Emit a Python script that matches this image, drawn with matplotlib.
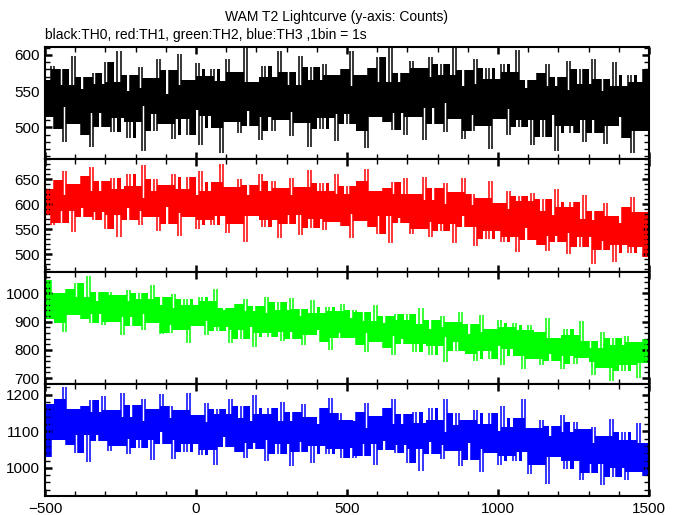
import numpy as np
import matplotlib
matplotlib.use("Agg")
import matplotlib.pyplot as plt
from matplotlib.ticker import MultipleLocator
from numpy.lib.stride_tricks import sliding_window_view

plt.rcParams['font.family'] = ['Liberation Sans', 'DejaVu Sans']

title = "WAM T2 Lightcurve (y-axis: Counts)"
subtitle = "black:TH0, red:TH1, green:TH2, blue:TH3 ,1bin = 1s"

t_start = -500
t_end = 1500
bin_width = 10

th0 = [565, 515, 585, 498, 548, 580, 480, 558, 528, 598, 505, 553, 490, 570, 540, 473, 575, 520, 560, 500,
       590, 525, 493, 563, 605, 513, 543, 485, 573, 508, 550, 583, 468, 555, 530, 568, 495, 595, 518, 538,
       504, 579, 484, 546, 601, 511, 559, 489, 566, 524, 589, 476, 536, 571, 516, 581, 499, 551, 464, 564,
       595, 530, 507, 577, 492, 555, 612, 522, 502, 562, 542, 482, 585, 515, 570, 495, 550, 605, 510, 535,
       576, 488, 558, 521, 598, 506, 546, 473, 583, 528, 566, 498, 588, 513, 533, 573, 481, 561, 581, 518,
       505, 605, 530, 557, 495, 572, 472, 582, 545, 515, 597, 527, 507, 562, 612, 497, 552, 520, 575, 490,
       562, 592, 514, 537, 582, 482, 569, 597, 527, 504, 552, 587, 494, 572, 534, 609, 512, 557, 484, 579,
       535, 495, 595, 517, 560, 502, 582, 470, 567, 552, 512, 587, 525, 490, 577, 532, 607, 500, 555, 510,
       565, 475, 542, 575, 510, 487, 587, 517, 557, 467, 570, 535, 502, 592, 492, 552, 525, 580, 480, 560,
       510, 595, 492, 532, 567, 477, 550, 502, 590, 515, 557, 485, 535, 572, 465, 542, 562, 495, 580, 507]

th1 = [579, 631, 558, 649, 597, 563, 667, 587, 618, 545, 641, 592, 657, 574, 605, 675, 568, 626, 584, 646,
       551, 618, 652, 579, 535, 631, 600, 660, 569, 637, 592, 559, 678, 587, 613, 574, 650, 546, 626, 605,
       639, 561, 660, 595, 537, 631, 582, 654, 574, 618, 550, 667, 605, 569, 626, 558, 644, 589, 680, 576,
       543, 611, 634, 561, 650, 585, 525, 619, 639, 577, 598, 660, 554, 626, 569, 647, 590, 533, 632, 606,
       561, 652, 579, 618, 538, 634, 592, 668, 553, 610, 571, 642, 548, 626, 605, 564, 660, 577, 556, 621,
       636, 532, 610, 581, 646, 566, 670, 555, 594, 626, 540, 613, 633, 576, 522, 644, 587, 620, 563, 652,
       572, 541, 621, 598, 551, 655, 564, 535, 608, 632, 582, 546, 642, 561, 600, 522, 624, 577, 652, 554,
       580, 621, 517, 598, 554, 613, 530, 647, 546, 561, 603, 525, 590, 626, 535, 582, 504, 616, 559, 606,
       529, 623, 553, 519, 586, 610, 506, 579, 537, 631, 524, 560, 594, 501, 605, 542, 571, 514, 618, 534,
       568, 480, 586, 545, 508, 602, 527, 576, 485, 563, 519, 594, 542, 503, 615, 534, 514, 584, 495, 571]

th2 = [908, 1048, 943, 981, 894, 1002, 862, 1016, 964, 922, 1037, 939, 911, 988, 1062, 897, 974, 929, 1006, 887,
       965, 1007, 898, 930, 993, 853, 975, 1014, 916, 884, 951, 1000, 870, 979, 926, 1031, 895, 958, 856, 989,
       915, 859, 999, 890, 950, 869, 981, 824, 960, 939, 883, 988, 901, 852, 974, 911, 1016, 866, 943, 880,
       949, 823, 917, 963, 872, 840, 980, 882, 938, 812, 956, 907, 861, 987, 847, 931, 893, 970, 830, 942,
       864, 983, 839, 895, 944, 818, 920, 853, 976, 871, 930, 829, 899, 951, 801, 909, 937, 843, 962, 860,
       912, 842, 940, 818, 888, 933, 793, 902, 860, 958, 828, 895, 807, 919, 877, 783, 926, 849, 905, 821,
       929, 838, 793, 891, 950, 821, 863, 782, 905, 814, 873, 919, 758, 880, 845, 898, 796, 936, 828, 856,
       787, 892, 759, 846, 923, 797, 864, 766, 874, 815, 906, 748, 832, 881, 804, 895, 780, 853, 731, 871,
       889, 798, 766, 864, 745, 833, 913, 787, 759, 843, 815, 731, 875, 777, 854, 749, 826, 903, 770, 805,
       833, 710, 808, 756, 864, 735, 791, 689, 843, 766, 819, 724, 850, 745, 773, 829, 700, 812, 840, 752]

th3 = [1174, 1030, 1138, 1098, 1188, 1077, 1221, 1062, 1116, 1160, 1041, 1142, 1170, 1091, 1016, 1185, 1106, 1152, 1073, 1196,
       1090, 1047, 1158, 1126, 1061, 1205, 1079, 1039, 1140, 1173, 1104, 1054, 1187, 1075, 1129, 1021, 1162, 1097, 1201, 1065,
       1112, 1169, 1025, 1137, 1076, 1158, 1043, 1205, 1065, 1086, 1144, 1036, 1126, 1176, 1050, 1115, 1007, 1162, 1083, 1148,
       1058, 1188, 1091, 1044, 1137, 1170, 1026, 1127, 1069, 1199, 1051, 1101, 1148, 1019, 1163, 1076, 1116, 1037, 1181, 1065,
       1127, 1005, 1152, 1095, 1044, 1174, 1070, 1138, 1012, 1120, 1059, 1163, 1091, 1037, 1192, 1080, 1052, 1149, 1026, 1131,
       1055, 1127, 1026, 1152, 1080, 1033, 1177, 1066, 1109, 1008, 1141, 1073, 1163, 1048, 1091, 1188, 1040, 1120, 1062, 1148,
       1013, 1106, 1153, 1052, 991, 1124, 1081, 1164, 1038, 1132, 1070, 1024, 1189, 1063, 1099, 1045, 1150, 1006, 1117, 1088,
       1130, 1022, 1159, 1069, 989, 1119, 1051, 1151, 1040, 1101, 1007, 1169, 1083, 1033, 1112, 1018, 1137, 1061, 1187, 1043,
       982, 1076, 1108, 1007, 1130, 1040, 957, 1087, 1115, 1029, 1058, 1144, 997, 1097, 1018, 1126, 1047, 968, 1105, 1069,
       986, 1112, 1011, 1065, 954, 1087, 1029, 1134, 975, 1054, 1000, 1098, 968, 1076, 1047, 990, 1123, 1008, 979, 1069]

series = [th0, th1, th2, th3]
colors = ['#000000', '#ff0000', '#00ff00', '#0000ff']
ylims = [(456, 611), (466, 690), (680, 1078), (923, 1230)]
ymajor = [50, 50, 100, 100]
yminor = [10, 10, 20, 20]

W, H = 679, 515
fig = plt.figure(figsize=(W / 100, H / 100), dpi=100)

left_px, right_px = 45, 649
top_px, bot_px = 47, 496
ph = (bot_px - top_px) / 4.0

edges = np.arange(t_start, t_end + bin_width, bin_width)

for k, (vals, col, yl, ymj, ymn) in enumerate(zip(series, colors, ylims, ymajor, yminor)):
    y0 = H - (top_px + (k + 1) * ph)
    ax = fig.add_axes([left_px / W, y0 / H, (right_px - left_px) / W, ph / H])
    v = np.asarray(vals, dtype=float)
    # dense core of the band: 2nd lowest .. 2nd highest of 6 neighbouring bins
    padded = np.concatenate([v[:2], v, v[-3:]])
    win = np.sort(sliding_window_view(padded, 6), axis=1)
    lo = win[:, 1]
    hi = win[:, 4]
    ax.fill_between(edges, np.append(lo, lo[-1]), np.append(hi, hi[-1]),
                    step='post', color=col, lw=0)
    # individual bin excursions as thin vertical strokes
    ax.vlines(edges[1:-1], np.minimum(v[:-1], v[1:]), np.maximum(v[:-1], v[1:]),
              color=col, lw=1.1)
    ax.set_xlim(t_start, t_end)
    ax.set_ylim(*yl)
    ax.xaxis.set_major_locator(MultipleLocator(500))
    ax.xaxis.set_minor_locator(MultipleLocator(100))
    ax.yaxis.set_major_locator(MultipleLocator(ymj))
    ax.yaxis.set_minor_locator(MultipleLocator(ymn))
    ax.tick_params(which='both', direction='in', top=True, right=True, labelsize=11, pad=4)
    ax.tick_params(which='major', length=5, width=1.8)
    ax.tick_params(which='minor', length=3.5, width=1.0)
    for s in ax.spines.values():
        s.set_linewidth(1.5)
        s.set_zorder(5)
    if k < 3:
        ax.tick_params(labelbottom=False)

fig.text(0.495, 1 - 17 / H, title, ha='center', va='center', fontsize=10)
fig.text(left_px / W, 1 - 35 / H, subtitle, ha='left', va='center', fontsize=10)

fig.savefig("out.png", dpi=100)
